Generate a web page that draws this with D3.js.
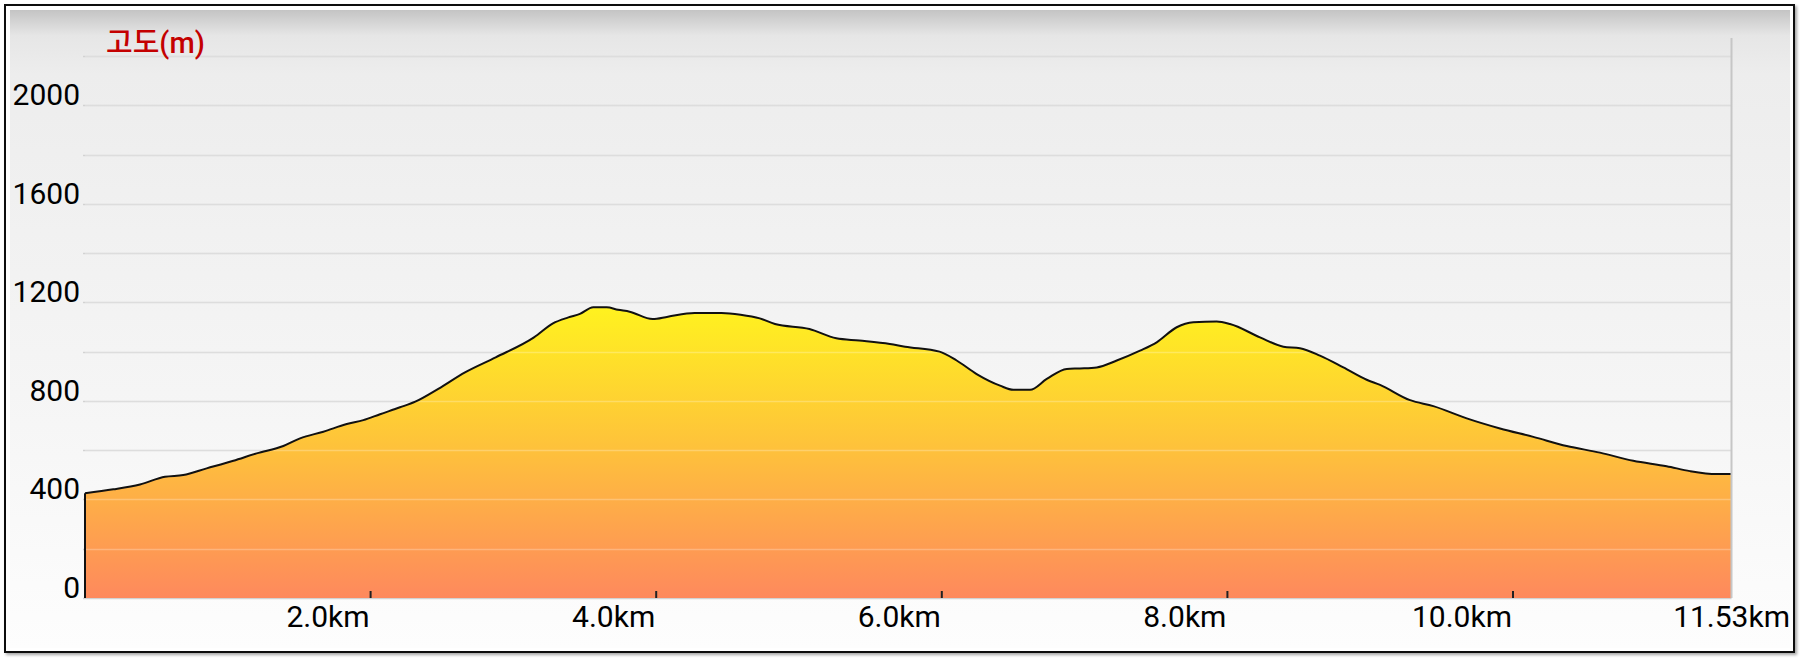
<!DOCTYPE html>
<html>
<head>
<meta charset="utf-8">
<script src="https://cdn.jsdelivr.net/npm/d3@7"></script>
<style>
  html, body { margin: 0; padding: 0; background: #ffffff; }
  svg { display: block; }
  text { font-family: Roboto, "Noto Sans CJK KR", "Noto Sans", sans-serif; }
</style>
</head>
<body>
<svg id="chart" width="1800" height="658"></svg>
<script>
// ---- data (distance in km, elevation in m) ----
const distKm = [0.00, 0.198, 0.385, 0.56, 0.688, 0.852, 1.039, 1.202, 1.389, 1.506, 1.669, 1.833, 1.949, 2.066,
  2.206, 2.313, 2.474, 2.661, 2.876, 3.144, 3.277, 3.385, 3.466, 3.559, 3.653, 3.733, 3.814, 3.975, 4.082,
  4.269, 4.457, 4.591, 4.725, 4.832, 5.073, 5.261, 5.422, 5.636, 5.743, 5.984, 6.104, 6.244, 6.408, 6.501,
  6.618, 6.735, 6.875, 6.968, 7.085, 7.225, 7.388, 7.505, 7.645, 7.761, 7.925, 8.018, 8.228, 8.392, 8.508,
  8.648, 8.812, 8.975, 9.069, 9.279, 9.442, 9.676, 9.909, 10.142, 10.376, 10.609, 10.842, 11.076, 11.239,
  11.426, 11.53];
const elevM = [425, 441, 461, 492, 499, 526, 557, 587, 617, 648, 675, 706, 722, 746,
  774, 797, 849, 916, 977, 1058, 1115, 1139, 1153, 1180, 1180, 1170, 1162, 1132, 1142,
  1157, 1157, 1150, 1135, 1112, 1092, 1054, 1045, 1031, 1020, 1000, 964, 909, 862, 845,
  845, 889, 930, 932, 936, 964, 1004, 1038, 1099, 1119, 1122, 1112, 1058, 1020, 1014,
  984, 936, 886, 865, 803, 779, 729, 688, 654, 617, 590, 557, 535, 515,
  503, 503];
const gridValues = [0, 200, 400, 600, 800, 1000, 1200, 1400, 1600, 1800, 2000, 2200];
const yLabelValues = [0, 400, 800, 1200, 1600, 2000];
const xTickValues = [2, 4, 6, 8, 10];
const xTickLabels = ["2.0km", "4.0km", "6.0km", "8.0km", "10.0km"];
const totalKm = 11.53;
const totalLabel = "11.53km";
const yTitle = "고도(m)";

const svg = d3.select("#chart");
const plot = { left: 85, right: 1731.5, top: 56, bottom: 598 };

const x = d3.scaleLinear().domain([0, totalKm]).range([plot.left, plot.right]);
const y = d3.scaleLinear().domain([0, 2200]).range([plot.bottom, plot.top]);

const defs = svg.append("defs");
const bg = defs.append("linearGradient").attr("id", "bg").attr("x1", 0).attr("y1", 0).attr("x2", 0).attr("y2", 1);
bg.append("stop").attr("offset", "0").attr("stop-color", "#c4c4c4");
bg.append("stop").attr("offset", "0.04").attr("stop-color", "#e6e6e6");
bg.append("stop").attr("offset", "0.1").attr("stop-color", "#ededed");
bg.append("stop").attr("offset", "0.6").attr("stop-color", "#f5f5f5");
bg.append("stop").attr("offset", "1").attr("stop-color", "#fdfdfd");

const fillGrad = defs.append("linearGradient").attr("id", "fillGrad")
  .attr("gradientUnits", "userSpaceOnUse")
  .attr("x1", 0).attr("x2", 0).attr("y1", y(1180)).attr("y2", y(0));
fillGrad.append("stop").attr("offset", "0").attr("stop-color", "#fff21f");
fillGrad.append("stop").attr("offset", "0.5").attr("stop-color", "#fec03c");
fillGrad.append("stop").attr("offset", "1").attr("stop-color", "#fe895d");

const shadow = defs.append("filter").attr("id", "shadow").attr("x", "-5%").attr("y", "-5%").attr("width", "110%").attr("height", "110%");
shadow.append("feDropShadow").attr("dx", 2).attr("dy", 2).attr("stdDeviation", 1.5).attr("flood-color", "#000").attr("flood-opacity", 0.35);

// frame
svg.append("rect").attr("x", 5).attr("y", 5).attr("width", 1789).attr("height", 647)
  .attr("fill", "#ffffff").attr("stroke", "#111").attr("stroke-width", 2).attr("filter", "url(#shadow)");
svg.append("rect").attr("x", 10).attr("y", 10).attr("width", 1780).attr("height", 638)
  .attr("fill", "url(#bg)");

// gridlines under fill
svg.append("g").selectAll("line").data(gridValues).join("line")
  .attr("x1", plot.left - 2).attr("x2", plot.right)
  .attr("y1", d => Math.round(y(d)) + 0.5).attr("y2", d => Math.round(y(d)) + 0.5)
  .attr("stroke", "#d2d2d2").attr("stroke-width", 1.5);

// area
const area = d3.area().x((d, i) => x(distKm[i])).y0(y(0)).y1(d => y(d)).curve(d3.curveMonotoneX);
svg.append("path").datum(elevM).attr("d", area).attr("fill", "url(#fillGrad)");

// gridlines over fill (faint)
svg.append("g").selectAll("line").data(gridValues.filter(d => d > 0)).join("line")
  .attr("x1", plot.left).attr("x2", plot.right)
  .attr("y1", d => Math.round(y(d)) + 0.5).attr("y2", d => Math.round(y(d)) + 0.5)
  .attr("stroke", "#ffffff").attr("stroke-opacity", 0.25).attr("stroke-width", 1.5);

// outline
const line = d3.line().x((d, i) => x(distKm[i])).y(d => y(d)).curve(d3.curveMonotoneX);
svg.append("path").datum(elevM).attr("d", line).attr("fill", "none").attr("stroke", "#111").attr("stroke-width", 2);
svg.append("line").attr("x1", x(0)).attr("x2", x(0)).attr("y1", y(0)).attr("y2", y(elevM[0]))
  .attr("stroke", "#111").attr("stroke-width", 2);

// right boundary line
svg.append("line").attr("x1", plot.right).attr("x2", plot.right).attr("y1", 38).attr("y2", plot.bottom)
  .attr("stroke", "#c6c6c6").attr("stroke-width", 2);

// y labels
svg.append("g").selectAll("text").data(yLabelValues).join("text")
  .attr("x", 80).attr("y", d => y(d))
  .attr("text-anchor", "end").attr("font-size", 30).attr("fill", "#000")
  .text(d => d);

// y title
svg.append("text").attr("x", 106).attr("y", 53).attr("font-size", 29).attr("font-weight", 500)
  .attr("fill", "#c40000").text(yTitle);

// x ticks
svg.append("g").selectAll("line").data(xTickValues).join("line")
  .attr("x1", d => x(d)).attr("x2", d => x(d)).attr("y1", plot.bottom - 7).attr("y2", plot.bottom)
  .attr("stroke", "#222").attr("stroke-width", 2);

// x labels
svg.append("g").selectAll("text").data(xTickValues).join("text")
  .attr("x", d => x(d) - 1).attr("y", 627)
  .attr("text-anchor", "end").attr("font-size", 30).attr("fill", "#000")
  .text((d, i) => xTickLabels[i]);
svg.append("text").attr("x", Math.min(x(totalKm) + 60, 1790)).attr("y", 627)
  .attr("text-anchor", "end").attr("font-size", 30).attr("fill", "#000").text(totalLabel);
</script>
</body>
</html>
